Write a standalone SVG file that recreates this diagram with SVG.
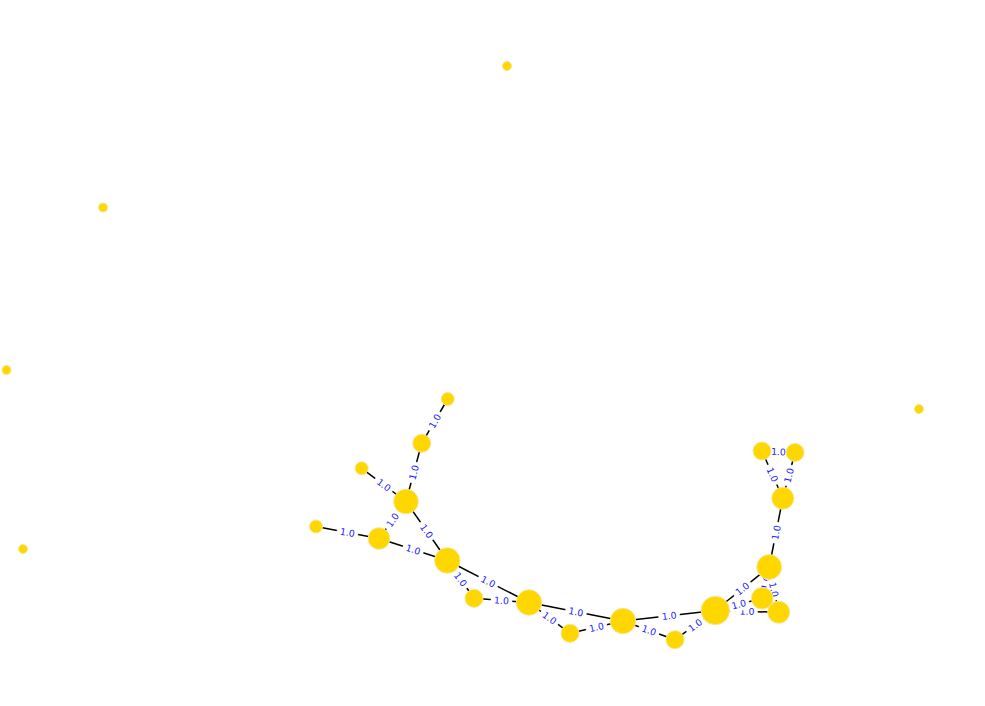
<svg xmlns="http://www.w3.org/2000/svg" width="985" height="706" viewBox="0 0 985 706">
<style>
.e{stroke:#000;stroke-width:1.5;fill:none}
.n{fill:#FFD700;stroke:#f7e68c;stroke-width:1}
.b{fill:#fff;stroke:#fff;stroke-width:0.5}
.t{font-family:"DejaVu Sans",sans-serif;font-size:9.3px;fill:#1a1aff;text-anchor:middle}
</style>
<rect width="985" height="706" fill="#fff"/>
<g id="connectors">
<line class="e" x1="447.7" y1="399" x2="421.7" y2="443.3"/>
<line class="e" x1="421.7" y1="443.3" x2="406" y2="501.5"/>
<line class="e" x1="361.7" y1="468.3" x2="406" y2="501.5"/>
<line class="e" x1="406" y1="501.5" x2="379" y2="538.5"/>
<line class="e" x1="406" y1="501.5" x2="447.3" y2="560.5"/>
<line class="e" x1="316" y1="526.5" x2="379" y2="538.5"/>
<line class="e" x1="379" y1="538.5" x2="447.3" y2="560.5"/>
<line class="e" x1="447.3" y1="560.5" x2="474" y2="598.3"/>
<line class="e" x1="447.3" y1="560.5" x2="529" y2="602.5"/>
<line class="e" x1="474" y1="598.3" x2="529" y2="602.5"/>
<line class="e" x1="529" y1="602.5" x2="570" y2="633.3"/>
<line class="e" x1="529" y1="602.5" x2="623" y2="621"/>
<line class="e" x1="570" y1="633.3" x2="623" y2="621"/>
<line class="e" x1="623" y1="621" x2="675" y2="639.7"/>
<line class="e" x1="623" y1="621" x2="715.3" y2="610.5"/>
<line class="e" x1="675" y1="639.7" x2="715.3" y2="610.5"/>
<line class="e" x1="715.3" y1="610.5" x2="769.2" y2="567"/>
<line class="e" x1="715.3" y1="610.5" x2="762.2" y2="598.3"/>
<line class="e" x1="715.3" y1="610.5" x2="778.7" y2="612.3"/>
<line class="e" x1="769.2" y1="567" x2="762.2" y2="598.3"/>
<line class="e" x1="769.2" y1="567" x2="778.7" y2="612.3"/>
<line class="e" x1="769.2" y1="567" x2="782.8" y2="498.3"/>
<line class="e" x1="782.8" y1="498.3" x2="762" y2="451"/>
<line class="e" x1="782.8" y1="498.3" x2="795" y2="452.5"/>
<line class="e" x1="762" y1="451" x2="795" y2="452.5"/>
<g id="edge-labels">
<g transform="translate(434.7,421.15) rotate(-59.6)"><rect class="b" x="-10.5" y="-6.5" width="21" height="13" rx="4"/><text class="t" y="3.4">1.0</text></g>
<g transform="translate(413.85,472.4) rotate(-74.9)"><rect class="b" x="-10.5" y="-6.5" width="21" height="13" rx="4"/><text class="t" y="3.4">1.0</text></g>
<g transform="translate(383.85,484.9) rotate(36.9)"><rect class="b" x="-10.5" y="-6.5" width="21" height="13" rx="4"/><text class="t" y="3.4">1.0</text></g>
<g transform="translate(392.5,520) rotate(-53.9)"><rect class="b" x="-10.5" y="-6.5" width="21" height="13" rx="4"/><text class="t" y="3.4">1.0</text></g>
<g transform="translate(426.65,531) rotate(55)"><rect class="b" x="-10.5" y="-6.5" width="21" height="13" rx="4"/><text class="t" y="3.4">1.0</text></g>
<g transform="translate(347.5,532.5) rotate(10.8)"><rect class="b" x="-10.5" y="-6.5" width="21" height="13" rx="4"/><text class="t" y="3.4">1.0</text></g>
<g transform="translate(413.15,549.5) rotate(17.9)"><rect class="b" x="-10.5" y="-6.5" width="21" height="13" rx="4"/><text class="t" y="3.4">1.0</text></g>
<g transform="translate(460.65,579.4) rotate(54.8)"><rect class="b" x="-10.5" y="-6.5" width="21" height="13" rx="4"/><text class="t" y="3.4">1.0</text></g>
<g transform="translate(488.15,581.5) rotate(27.2)"><rect class="b" x="-10.5" y="-6.5" width="21" height="13" rx="4"/><text class="t" y="3.4">1.0</text></g>
<g transform="translate(501.5,600.4) rotate(4.4)"><rect class="b" x="-10.5" y="-6.5" width="21" height="13" rx="4"/><text class="t" y="3.4">1.0</text></g>
<g transform="translate(549.5,617.9) rotate(36.9)"><rect class="b" x="-10.5" y="-6.5" width="21" height="13" rx="4"/><text class="t" y="3.4">1.0</text></g>
<g transform="translate(576,611.75) rotate(11.1)"><rect class="b" x="-10.5" y="-6.5" width="21" height="13" rx="4"/><text class="t" y="3.4">1.0</text></g>
<g transform="translate(596.5,627.15) rotate(-13.1)"><rect class="b" x="-10.5" y="-6.5" width="21" height="13" rx="4"/><text class="t" y="3.4">1.0</text></g>
<g transform="translate(649,630.35) rotate(19.8)"><rect class="b" x="-10.5" y="-6.5" width="21" height="13" rx="4"/><text class="t" y="3.4">1.0</text></g>
<g transform="translate(669.15,615.75) rotate(-6.5)"><rect class="b" x="-10.5" y="-6.5" width="21" height="13" rx="4"/><text class="t" y="3.4">1.0</text></g>
<g transform="translate(695.15,625.1) rotate(-35.9)"><rect class="b" x="-10.5" y="-6.5" width="21" height="13" rx="4"/><text class="t" y="3.4">1.0</text></g>
<g transform="translate(742.25,588.75) rotate(-38.9)"><rect class="b" x="-10.5" y="-6.5" width="21" height="13" rx="4"/><text class="t" y="3.4">1.0</text></g>
<g transform="translate(747,611.4) rotate(1.6)"><rect class="b" x="-10.5" y="-6.5" width="21" height="13" rx="4"/><text class="t" y="3.4">1.0</text></g>
<g transform="translate(738.75,604.4) rotate(-14.6)"><rect class="b" x="-10.5" y="-6.5" width="21" height="13" rx="4"/><text class="t" y="3.4">1.0</text></g>
<g transform="translate(765.7,582.65) rotate(-77.4)"><rect class="b" x="-10.5" y="-6.5" width="21" height="13" rx="4"/><text class="t" y="3.4">1.0</text></g>
<g transform="translate(773.95,589.65) rotate(78.2)"><rect class="b" x="-10.5" y="-6.5" width="21" height="13" rx="4"/><text class="t" y="3.4">1.0</text></g>
<g transform="translate(776,532.65) rotate(-78.8)"><rect class="b" x="-10.5" y="-6.5" width="21" height="13" rx="4"/><text class="t" y="3.4">1.0</text></g>
<g transform="translate(772.4,474.65) rotate(66.3)"><rect class="b" x="-10.5" y="-6.5" width="21" height="13" rx="4"/><text class="t" y="3.4">1.0</text></g>
<g transform="translate(788.9,475.4) rotate(-75.1)"><rect class="b" x="-10.5" y="-6.5" width="21" height="13" rx="4"/><text class="t" y="3.4">1.0</text></g>
<g transform="translate(778.5,451.75) rotate(2.6)"><rect class="b" x="-10.5" y="-6.5" width="21" height="13" rx="4"/><text class="t" y="3.4">1.0</text></g>
</g>
</g>
<g id="nodes">
<g id="nA"><circle class="n" cx="507" cy="66" r="4.5"/></g>
<g id="nB"><circle class="n" cx="103" cy="207.5" r="4.5"/></g>
<g id="nC"><circle class="n" cx="6.5" cy="370" r="4.5"/></g>
<g id="nD"><circle class="n" cx="23" cy="549" r="4.5"/></g>
<g id="nE"><circle class="n" cx="919" cy="409" r="4.5"/></g>
<g id="nF"><circle class="n" cx="447.7" cy="399" r="6.5"/></g>
<g id="nG"><circle class="n" cx="421.7" cy="443.3" r="9"/></g>
<g id="nH"><circle class="n" cx="361.7" cy="468.3" r="6.5"/></g>
<g id="nI"><circle class="n" cx="406" cy="501.5" r="12.3"/></g>
<g id="nJ"><circle class="n" cx="316" cy="526.5" r="6.5"/></g>
<g id="nK"><circle class="n" cx="379" cy="538.5" r="10.8"/></g>
<g id="nL"><circle class="n" cx="447.3" cy="560.5" r="12.7"/></g>
<g id="nM"><circle class="n" cx="474" cy="598.3" r="9"/></g>
<g id="nN"><circle class="n" cx="529" cy="602.5" r="12.7"/></g>
<g id="nO"><circle class="n" cx="570" cy="633.3" r="9"/></g>
<g id="nP"><circle class="n" cx="623" cy="621" r="12.7"/></g>
<g id="nQ"><circle class="n" cx="675" cy="639.7" r="9"/></g>
<g id="nR"><circle class="n" cx="715.3" cy="610.5" r="14.2"/></g>
<g id="nS"><circle class="n" cx="769.2" cy="567" r="12.4"/></g>
<g id="nT"><circle class="n" cx="782.8" cy="498.3" r="11"/></g>
<g id="nU"><circle class="n" cx="762" cy="451" r="9"/></g>
<g id="nV"><circle class="n" cx="795" cy="452.5" r="9"/></g>
<g id="nW"><circle class="n" cx="762.2" cy="598.3" r="10.8"/></g>
<g id="nX"><circle class="n" cx="778.7" cy="612.3" r="11"/></g>
</g>
</svg>
